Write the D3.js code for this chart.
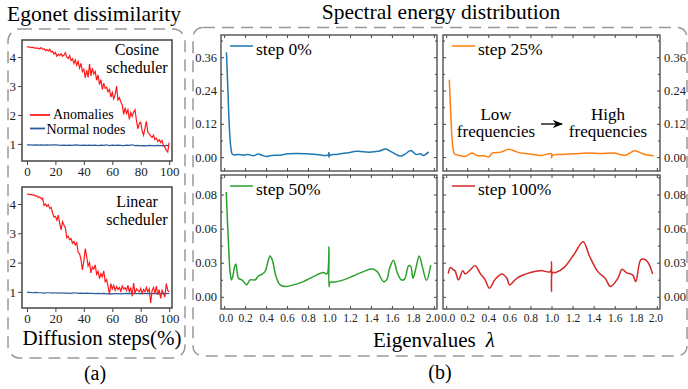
<!DOCTYPE html>
<html>
<head>
<meta charset="utf-8">
<script src="https://cdn.jsdelivr.net/npm/d3@7"></script>
<style>
  body { margin: 0; background: #fff; }
  svg { font-family: "Liberation Serif", "Times New Roman", serif; }
</style>
</head>
<body>
<svg id="fig" width="688" height="389"></svg>
<script>
// Egonet dissimilarity, x = diffusion step (%)
var cosineAnomaly = [4.36,4.35,4.34,4.33,4.34,4.31,4.32,4.30,4.31,4.28,4.33,4.27,4.29,4.22,4.26,4.21,4.27,4.18,4.20,4.10,
  4.16,4.03,4.10,4.05,4.12,4.03,4.07,4.15,4.00,3.95,4.05,3.88,3.94,3.78,3.90,3.72,3.85,3.62,3.78,3.50,
  3.58,3.28,3.55,3.30,3.76,3.35,3.62,3.42,3.50,3.20,3.38,3.05,3.22,2.88,3.10,2.92,2.95,2.80,2.88,2.62,
  2.78,2.55,2.70,3.00,2.52,2.60,2.45,2.35,2.02,2.25,2.05,2.18,1.85,2.08,1.95,2.10,2.18,1.80,1.52,1.70,
  1.75,1.45,1.30,1.55,1.78,1.40,1.35,1.28,1.22,1.30,1.15,1.20,1.08,1.15,1.05,1.12,0.95,0.88,0.78,0.72,1.05];
var cosineNormal = [0.97,0.97,0.96,0.97,0.96,0.97,0.96,0.97,0.96,0.97,0.97,0.96,0.95,0.96,0.95,0.96,0.95,0.97,0.96,0.95,
  0.96,0.95,0.96,0.95,0.96,0.94,0.96,0.95,0.97,0.94,0.96,0.95,0.96,0.95,0.94,0.96,0.95,0.97,0.94,0.95,
  0.93,0.94,0.93,0.95,0.94,0.93,0.95,0.94,0.93,0.95,0.94];
var linearAnomaly = [4.33,4.34,4.32,4.33,4.30,4.31,4.27,4.28,4.22,4.24,4.18,4.20,3.95,4.00,3.92,3.98,3.85,3.88,3.70,3.55,
  3.58,3.45,3.62,3.35,3.12,3.40,3.28,3.18,2.85,2.90,2.78,2.82,2.66,2.72,2.60,2.68,2.35,2.30,2.10,1.75,
  2.05,2.48,2.20,1.88,2.00,1.65,1.85,1.78,1.92,1.60,1.70,1.45,1.62,1.52,1.72,1.35,1.42,1.20,0.92,1.28,
  1.10,1.22,1.05,1.18,1.08,1.15,1.02,1.20,1.10,1.14,1.05,1.22,1.00,1.15,0.85,1.30,0.95,1.10,1.05,1.00,
  1.12,0.95,1.08,1.00,1.15,1.00,1.10,0.62,1.05,1.15,0.95,1.20,0.90,1.08,0.78,1.05,0.95,0.82,1.28,1.05,1.00];
var linearNormal = [0.98,0.98,0.97,0.98,0.97,0.97,0.96,0.97,0.97,0.96,0.97,0.96,0.97,0.96,0.96,0.95,0.96,0.97,0.95,0.96,
  0.95,0.96,0.95,0.95,0.94,0.95,0.94,0.95,0.93,0.94,0.93,0.94,0.94,0.93,0.94,0.95,0.94,0.94,0.95,0.94,
  0.95,0.94,0.94,0.95,0.94,0.95,0.94,0.93,0.95,0.94,0.95];
var stepTicks = [0, 20, 40, 60, 80, 100];
var dissimTicks = [1, 2, 3, 4];

// Spectral energy distribution, x = eigenvalue lambda
var lam0 = [0.022,0.035,0.048,0.062,0.075,0.09,0.136,0.183,0.23,0.28,0.325,0.36,0.40,0.45,0.53,0.61,0.69,0.78,0.88,0.99,1.0,1.0,1.01,1.07,1.16,1.27,1.38,1.48,1.54,1.60,1.68,1.73,1.78,1.83,1.87,1.90,1.95];
var val0 = [0.378,0.25,0.12,0.04,0.013,0.008,0.0097,0.007,0.0097,0.005,0.011,0.007,0.0024,0.006,0.007,0.012,0.013,0.012,0.0097,0.007,0.017,0.0,0.007,0.0097,0.0145,0.021,0.018,0.022,0.029,0.018,0.0036,0.012,0.024,0.0097,0.012,0.006,0.019];
var lam25 = [0.03,0.042,0.055,0.068,0.08,0.118,0.182,0.245,0.293,0.357,0.405,0.437,0.517,0.593,0.676,0.772,0.90,1.0,1.0,1.01,1.09,1.22,1.35,1.47,1.59,1.70,1.79,1.86,1.90,1.97];
var val25 = [0.279,0.17,0.07,0.025,0.011,0.007,0.0024,0.0145,0.006,0.005,0.0005,0.0145,0.018,0.028,0.018,0.012,0.006,0.012,-0.002,0.006,0.0097,0.012,0.0145,0.013,0.0145,0.007,0.023,0.013,0.0085,0.005];
var lam50 = [0.02,0.03,0.041,0.05,0.058,0.07,0.082,0.10,0.111,0.125,0.136,0.168,0.20,0.216,0.248,0.296,0.327,0.359,0.39,0.415,0.438,0.46,0.495,0.534,0.58,0.66,0.756,0.851,0.947,0.98,1.0,1.0,1.01,1.04,1.14,1.23,1.33,1.41,1.46,1.52,1.55,1.58,1.615,1.65,1.69,1.72,1.76,1.78,1.80,1.83,1.86,1.89,1.93,1.97];
var val50 = [0.086,0.065,0.045,0.028,0.0193,0.0139,0.0166,0.025,0.027,0.02,0.0152,0.0139,0.011,0.0098,0.0139,0.0139,0.0171,0.0185,0.0207,0.028,0.0335,0.030,0.0166,0.0098,0.0084,0.0098,0.0125,0.0166,0.0199,0.0188,0.041,0.0084,0.012,0.012,0.0139,0.0171,0.0207,0.0231,0.0207,0.0125,0.0139,0.024,0.030,0.02,0.0139,0.0145,0.0256,0.025,0.0152,0.024,0.0335,0.0248,0.0135,0.026];
var lam100 = [0.02,0.04,0.063,0.085,0.117,0.158,0.18,0.228,0.275,0.323,0.37,0.41,0.466,0.53,0.577,0.603,0.67,0.80,0.895,0.99,1.0,1.0,1.01,1.04,1.12,1.21,1.30,1.36,1.44,1.51,1.56,1.63,1.67,1.71,1.77,1.80,1.85,1.90,1.93,1.96];
var val100 = [0.019,0.024,0.0226,0.0212,0.0139,0.0215,0.0188,0.022,0.0256,0.0193,0.0139,0.0071,0.0144,0.0188,0.0152,0.0098,0.0152,0.0199,0.0215,0.0207,0.0288,0.0044,0.0199,0.0199,0.0242,0.0343,0.0452,0.0335,0.0207,0.0152,0.0084,0.0152,0.0226,0.0199,0.018,0.0125,0.0307,0.030,0.026,0.0188];
var lamTicks = [0, 0.2, 0.4, 0.6, 0.8, 1.0, 1.2, 1.4, 1.6, 1.8, 2.0];
var topTicks = [0, 0.12, 0.24, 0.36];
var topMinor = [0.06, 0.18, 0.30, 0.42];
var botTicks = [0, 0.028, 0.056, 0.084];
var botMinor = [0.014, 0.042, 0.070, 0.098];

var svg = d3.select("#fig");
var serif = '"Liberation Serif", "Times New Roman", serif';
var axisColor = "#444";

function styleAxis(g, size) {
  g.attr("font-family", serif).attr("font-size", size);
  g.select(".domain").remove();
  g.selectAll(".tick line").attr("stroke", axisColor).attr("stroke-width", 1);
  g.selectAll(".tick text").attr("fill", "#222");
}

// Dashed group boxes
svg.append("rect")
  .attr("x", 8).attr("y", 29).attr("width", 177).attr("height", 329).attr("rx", 12)
  .attr("fill", "none").attr("stroke", "#999").attr("stroke-width", 1.5)
  .attr("stroke-dasharray", "12,7");
svg.append("rect")
  .attr("x", 193).attr("y", 27.5).attr("width", 494).attr("height", 328.5).attr("rx", 10)
  .attr("fill", "none").attr("stroke", "#999").attr("stroke-width", 1.5)
  .attr("stroke-dasharray", "12,7");

// Titles
svg.append("text").attr("x", 94).attr("y", 20.5).attr("text-anchor", "middle")
  .style("font-size", "21.5px").text("Egonet dissimilarity");
svg.append("text").attr("x", 441).attr("y", 19).attr("text-anchor", "middle")
  .style("font-size", "21.5px").text("Spectral energy distribution");
svg.append("text").attr("x", 102).attr("y", 345).attr("text-anchor", "middle")
  .style("font-size", "21px").text("Diffusion steps(%)");
var eig = svg.append("text").attr("x", 373).attr("y", 347).style("font-size", "21px");
eig.append("tspan").text("Eigenvalues");
eig.append("tspan").attr("dx", 10).style("font-style", "italic").text("λ");
svg.append("text").attr("x", 95).attr("y", 380).attr("text-anchor", "middle")
  .style("font-size", "20px").text("(a)");
svg.append("text").attr("x", 440).attr("y", 379).attr("text-anchor", "middle")
  .style("font-size", "20px").text("(b)");

// Left panels
function drawEgonet(box, anomaly, normal, lines) {
  var x = d3.scaleLinear().domain([-3.5, 102]).range([box.x0, box.x1]);
  var y = d3.scaleLinear().domain(box.ydom).range([box.y1, box.y0]);
  var g = svg.append("g");

  g.append("g").attr("transform", "translate(0," + box.y1 + ")")
    .call(d3.axisBottom(x).tickValues(stepTicks).tickSize(4).tickPadding(2).tickFormat(d3.format("d")))
    .call(styleAxis, 13);
  g.append("g").attr("transform", "translate(" + box.x0 + ",0)")
    .call(d3.axisLeft(y).tickValues(dissimTicks).tickSize(4).tickPadding(2).tickFormat(d3.format("d")))
    .call(styleAxis, 13);

  var line = d3.line().x(d => x(d[0])).y(d => y(d[1]));
  g.append("path").datum(normal.map((v, i) => [i * 2, v]))
    .attr("d", line).attr("fill", "none").attr("stroke", "#2b5c9e").attr("stroke-width", 1.2);
  g.append("path").datum(anomaly.map((v, i) => [i, v]))
    .attr("d", line).attr("fill", "none").attr("stroke", "#ff1a1a").attr("stroke-width", 1.2);

  g.append("rect").attr("x", box.x0).attr("y", box.y0)
    .attr("width", box.x1 - box.x0).attr("height", box.y1 - box.y0)
    .attr("fill", "none").attr("stroke", axisColor).attr("stroke-width", 1.5);

  lines.forEach(function(t, i) {
    g.append("text").attr("x", 137).attr("y", box.labelY[i]).attr("text-anchor", "middle")
      .style("font-size", "16px").text(t);
  });
  return g;
}

var gCos = drawEgonet({x0: 22, x1: 172, y0: 40, y1: 161, ydom: [0.41, 4.59], labelY: [55, 73]},
  cosineAnomaly, cosineNormal, ["Cosine", "scheduler"]);
drawEgonet({x0: 22, x1: 172, y0: 187, y1: 308, ydom: [0.45, 4.58], labelY: [207, 225]},
  linearAnomaly, linearNormal, ["Linear", "scheduler"]);

// legend of the egonet panel
gCos.append("line").attr("x1", 30).attr("x2", 50).attr("y1", 115).attr("y2", 115)
  .attr("stroke", "#ff1a1a").attr("stroke-width", 1.8);
gCos.append("text").attr("x", 53).attr("y", 119).style("font-size", "14px").text("Anomalies");
gCos.append("line").attr("x1", 30).attr("x2", 45).attr("y1", 128.5).attr("y2", 128.5)
  .attr("stroke", "#2b5c9e").attr("stroke-width", 1.8);
gCos.append("text").attr("x", 46.5).attr("y", 133.5).style("font-size", "14px").text("Normal nodes");

// Right panels
function drawSpectral(f, lam, val, color, label) {
  var x = d3.scaleLinear().domain([-0.03, 2.03]).range([f.x0, f.x1]);
  var y = d3.scaleLinear().domain(f.ydom).range([f.y1, f.y0]);
  var g = svg.append("g");
  var fmt = d3.format(".2f");

  // ticks on all four sides, pointing inward
  var xb = g.append("g").attr("transform", "translate(0," + f.y1 + ")")
    .call(d3.axisBottom(x).tickValues(lamTicks).tickSize(-3).tickPadding(5)
      .tickFormat(f.xLabels ? d3.format(".1f") : ""))
    .call(styleAxis, 11.5);
  // the neighbouring panels' end labels sit very close together
  xb.selectAll(".tick text").attr("dx", d => d === 0 ? 1.5 : d === 2 ? -1.5 : 0);
  g.append("g").attr("transform", "translate(0," + f.y0 + ")")
    .call(d3.axisTop(x).tickValues(lamTicks).tickSize(-3).tickFormat(""))
    .call(styleAxis, 12);
  [[f.x0, d3.axisLeft, f.side === "left"], [f.x1, d3.axisRight, f.side === "right"]].forEach(function(s) {
    g.append("g").attr("transform", "translate(" + s[0] + ",0)")
      .call(s[1](y).tickValues(f.ticks).tickSize(-3).tickPadding(4).tickFormat(s[2] ? fmt : ""))
      .call(styleAxis, 12.5);
    g.append("g").attr("transform", "translate(" + s[0] + ",0)")
      .call(s[1](y).tickValues(f.minor).tickSize(-2).tickFormat(""))
      .call(styleAxis, 12);
  });

  var line = d3.line().x((d, i) => x(lam[i])).y(d => y(d)).curve(d3.curveCatmullRom.alpha(0.5));
  g.append("path").datum(val).attr("d", line)
    .attr("fill", "none").attr("stroke", color).attr("stroke-width", 1.5);

  g.append("rect").attr("x", f.x0).attr("y", f.y0)
    .attr("width", f.x1 - f.x0).attr("height", f.y1 - f.y0)
    .attr("fill", "none").attr("stroke", axisColor).attr("stroke-width", 1.3);

  g.append("line").attr("x1", f.x0 + 9).attr("x2", f.x0 + 32)
    .attr("y1", f.y0 + 11).attr("y2", f.y0 + 11)
    .attr("stroke", color).attr("stroke-width", 1.5);
  g.append("text").attr("x", f.x0 + 35).attr("y", f.y0 + 20)
    .style("font-size", "17.5px").text(label);
  return g;
}

var c0 = "#1f77b4", c25 = "#ff7f0e", c50 = "#2ca02c", c100 = "#d62728";
drawSpectral({x0: 221, x1: 437, y0: 35, y1: 171, ydom: [-0.05, 0.44], ticks: topTicks, minor: topMinor, side: "left"},
  lam0, val0, c0, "step 0%");
var g25 = drawSpectral({x0: 443, x1: 660, y0: 35, y1: 171, ydom: [-0.05, 0.44], ticks: topTicks, minor: topMinor, side: "right"},
  lam25, val25, c25, "step 25%");
drawSpectral({x0: 221, x1: 437, y0: 175, y1: 309, ydom: [-0.01, 0.10], ticks: botTicks, minor: botMinor, side: "left", xLabels: true},
  lam50, val50, c50, "step 50%");
drawSpectral({x0: 443, x1: 660, y0: 175, y1: 309, ydom: [-0.01, 0.10], ticks: botTicks, minor: botMinor, side: "right", xLabels: true},
  lam100, val100, c100, "step 100%");

// Low -> High frequencies annotation
[["Low", 496, 119.5], ["frequencies", 496, 137], ["High", 608, 119.5], ["frequencies", 608, 137]].forEach(function(t) {
  g25.append("text").attr("x", t[1]).attr("y", t[2]).attr("text-anchor", "middle")
    .style("font-size", "17px").text(t[0]);
});
svg.append("defs").append("marker").attr("id", "arrow")
  .attr("viewBox", "0 0 10 10").attr("refX", 9).attr("refY", 5)
  .attr("markerWidth", 8).attr("markerHeight", 8).attr("orient", "auto")
  .append("path").attr("d", "M0,1 L10,5 L0,9 L3,5 Z").attr("fill", "#000");
g25.append("line").attr("x1", 541).attr("x2", 562).attr("y1", 124).attr("y2", 124)
  .attr("stroke", "#000").attr("stroke-width", 1.3).attr("marker-end", "url(#arrow)");
</script>
</body>
</html>
